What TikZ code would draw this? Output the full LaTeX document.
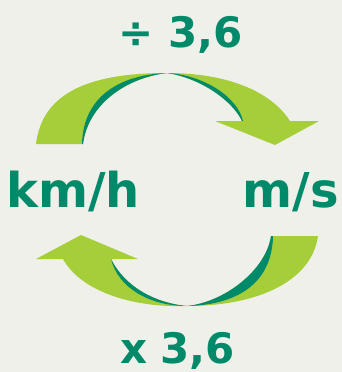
\documentclass[tikz,border=0pt]{standalone}
\usepackage{fontspec}
\setmainfont{DejaVu Sans}
\definecolor{bg}{RGB}{240,240,235}
\definecolor{dgreen}{RGB}{0,138,105}
\definecolor{lgreen}{RGB}{166,206,57}
\tikzset{
  lbl/.style={text=dgreen, font=\fontsize{42}{42}\selectfont\bfseries, inner sep=0pt},
  biglbl/.style={lbl, font=\fontsize{48}{48}\selectfont\bfseries},
  light/.style={fill=lgreen, draw=none},
  dark/.style={fill=dgreen, draw=none}
}
\begin{document}
\begin{tikzpicture}[x=1pt,y=-1pt]
\fill[bg] (0,0) rectangle (342,372);
\useasboundingbox (0,0) rectangle (342,372);
% top arrow
\coordinate (tp) at (167,73);
\fill[light] (36,144) .. controls (42,95) and (85,73) .. (tp)
  .. controls (225,73) and (270,90) .. (290,121)
  -- (319,121) -- (275,145) -- (215,121) -- (242,121)
  .. controls (232,100) and (200,78) .. (tp)
  .. controls (125,78) and (88,105) .. (83,144) -- cycle;
\fill[dark] (83,144) .. controls (88,105) and (125,78) .. (tp)
  .. controls (115,75) and (83,100) .. (82,144) -- cycle;
\fill[dark] (tp) .. controls (200,78) and (232,100) .. (242,121)
  -- (243,121) .. controls (238,98) and (205,75) .. (tp) -- cycle;
% bottom arrow
\coordinate (bp) at (187,306);
\fill[light] (318,236) -- (271,236)
  .. controls (266,270) and (225,302) .. (bp)
  .. controls (155,303) and (125,287) .. (111,259)
  -- (138,259) -- (81,235) -- (36,259) -- (63,259)
  .. controls (80,290) and (130,308) .. (bp)
  .. controls (260,306) and (312,280) .. (318,236) -- cycle;
\fill[dark] (271,236) .. controls (266,270) and (225,302) .. (bp)
  .. controls (235,305) and (272,285) .. (273,236) -- cycle;
\fill[dark] (111,259) .. controls (125,287) and (155,303) .. (bp)
  .. controls (150,306) and (118,288) .. (111,259) -- cycle;
% labels
\node[lbl, anchor=base west] (div) at (118,47) {÷\hspace{15pt}3,6};
\node[biglbl, anchor=base west] (kmh) at (6,207) {km/h};
\node[biglbl, anchor=base east] (ms) at (339,207) {m/s};
\node[lbl, anchor=base west] (mul) at (120,363) {x\hspace{13pt}3,6};
\end{tikzpicture}
\end{document}
